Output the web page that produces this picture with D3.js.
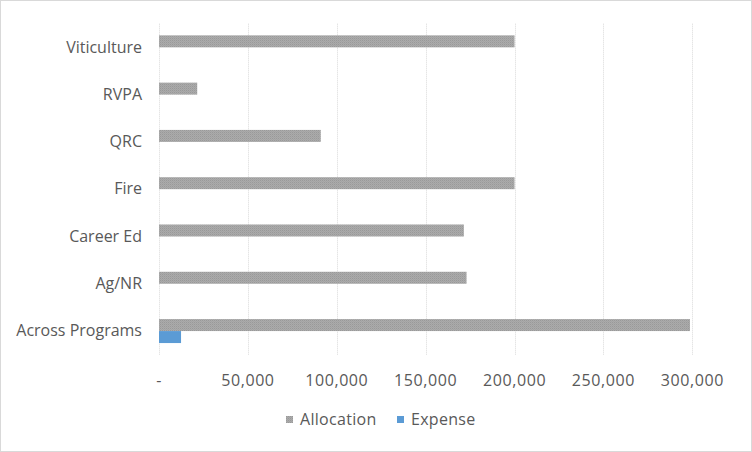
<!DOCTYPE html>
<html><head><meta charset="utf-8">
<script src="https://cdn.jsdelivr.net/npm/d3@7"></script>
<style>
html,body{margin:0;padding:0;background:#fff;}
svg{display:block;}
text{font-family:"Open Sans","Noto Sans",sans-serif;fill:#595959;}
</style></head>
<body>
<script>
const categories = ["Across Programs","Ag/NR","Career Ed","Fire","QRC","RVPA","Viticulture"];
const allocation = [298700, 173000, 171500, 200000, 91000, 21500, 200000];
const expense = [12400, 0, 0, 0, 0, 0, 0];
const seriesNames = ["Allocation","Expense"];
const xTicks = [0, 50000, 100000, 150000, 200000, 250000, 300000];

const W = 752, H = 452;
const m = {left:159, right:60, top:23.7, bottom:97.3};
const svg = d3.select("body").append("svg").attr("width", W).attr("height", H);

const defs = svg.append("defs");
const pat = defs.append("pattern").attr("id","dots").attr("patternUnits","userSpaceOnUse")
  .attr("width",2).attr("height",2);
pat.append("rect").attr("width",2).attr("height",2).attr("fill","#ababab");
pat.append("rect").attr("width",1).attr("height",1).attr("fill","#999999");
pat.append("rect").attr("x",1).attr("y",1).attr("width",1).attr("height",1).attr("fill","#a3a3a3");

svg.append("rect").attr("x",0.5).attr("y",0.5).attr("width",W-1).attr("height",H-1)
  .attr("fill","#fff").attr("stroke","#d9d9d9").attr("stroke-width",1);

const x = d3.scaleLinear().domain([0,300000]).range([m.left, W - m.right + 0.3]);
const y = d3.scaleBand().domain(categories).range([H - m.bottom, m.top])
  .paddingInner(0.4925).paddingOuter(0.4925/2);
const ys = d3.scaleBand().domain(seriesNames).range([0, y.bandwidth()]);

const colors = {Allocation:"url(#dots)", Expense:"#5b9bd5"};

svg.append("g").selectAll("line").data(xTicks).join("line")
  .attr("x1", d => Math.round(x(d)) + 0.5).attr("x2", d => Math.round(x(d)) + 0.5)
  .attr("y1", m.top).attr("y2", H - m.bottom)
  .attr("stroke","#d9d9d9").attr("stroke-width",1).attr("stroke-dasharray","1,1");

const data = [];
categories.forEach((c,i) => {
  data.push({cat:c, s:"Allocation", v:allocation[i]});
  data.push({cat:c, s:"Expense", v:expense[i]});
});

svg.append("g").selectAll("rect").data(data.filter(d => d.v > 0)).join("rect")
  .attr("x", x(0))
  .attr("y", d => y(d.cat) + ys(d.s))
  .attr("width", d => x(d.v) - x(0))
  .attr("height", ys.bandwidth())
  .attr("fill", d => colors[d.s]);

svg.append("g").selectAll("text").data(categories).join("text")
  .attr("x", 142).attr("y", d => y(d) + y.bandwidth()/2 + 1)
  .attr("text-anchor","end").attr("dominant-baseline","middle")
  .style("font-size","16px").text(d => d);

const fmt = d => d === 0 ? "-" : d3.format(",")(d);
svg.append("g").selectAll("text").data(xTicks).join("text")
  .attr("x", d => x(d)).attr("y", 382)
  .attr("text-anchor","middle").attr("dominant-baseline","middle")
  .style("font-size","16px").style("letter-spacing","0.6px").text(fmt);

const leg = svg.append("g");
const legX = [286, 397];
seriesNames.forEach((s,i) => {
  leg.append("rect").attr("x", legX[i]).attr("y", 416).attr("width",7).attr("height",7)
    .attr("fill", colors[s]);
  leg.append("text").attr("x", legX[i] + 14).attr("y", 421)
    .attr("dominant-baseline","middle").style("font-size","16px").style("letter-spacing","0.3px").text(s);
});
</script>
</body></html>
